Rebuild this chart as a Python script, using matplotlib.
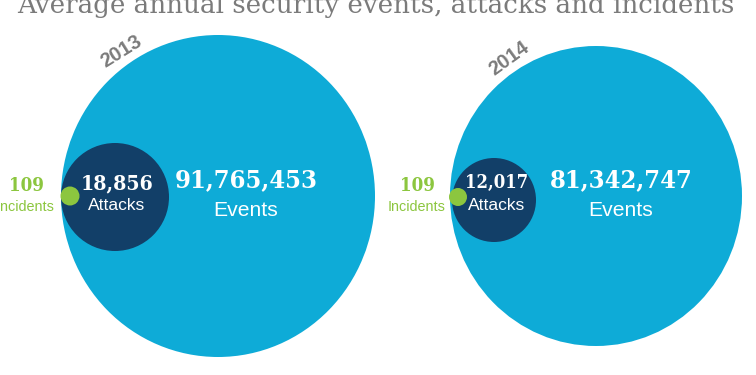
import matplotlib
matplotlib.use("Agg")
import matplotlib.pyplot as plt
from matplotlib.patches import Ellipse, Circle

# data
years = ["2013", "2014"]
events = [91765453, 81342747]
attacks = [18856, 12017]
incidents = [109, 109]
title = "Average annual security events, attacks and incidents"

# colours
c_events = "#0eabd7"
c_attacks = "#123f68"
c_incid = "#8cc63f"
c_grey = "#7b7b7b"

# layout (pixel coords, y down)
big = [((218, 196), 157, 161), ((596, 196), 146, 150)]
mid = [((115, 197), 54), ((494, 200), 42)]
small = [((70, 196), 9.5), ((458, 197), 9)]
year_pos = [((121, 51), 32), ((509, 58), 36)]
inc_x = [26, 417]
att_x = [117, 497]
att_size = [15.2, 13.2]
ev_x = [246, 621]

fig = plt.figure(figsize=(7.56, 3.75), dpi=100)
ax = fig.add_axes([0, 0, 1, 1])
ax.set_xlim(0, 756)
ax.set_ylim(375, 0)
ax.axis("off")

serif = "DejaVu Serif"
sans = "Liberation Sans"
num = dict(family=serif, fontweight="bold", fontstretch="condensed")

for i in range(len(years)):
    (cx, cy), rx, ry = big[i]
    ax.add_patch(Ellipse((cx, cy), 2 * rx, 2 * ry, color=c_events, lw=0))
    (mx, my), mr = mid[i]
    ax.add_patch(Circle((mx, my), mr, color=c_attacks, lw=0))
    (sx, sy), sr = small[i]
    ax.add_patch(Circle((sx, sy), sr, color=c_incid, lw=0))

    (yx, yy), rot = year_pos[i]
    ax.text(yx, yy, years[i], rotation=rot, ha="center", va="center",
            fontsize=14.5, fontweight="bold", color=c_grey, family=sans,
            rotation_mode="anchor")

    ax.text(inc_x[i], 186, f"{incidents[i]:,}", ha="center", va="center",
            fontsize=13.5, color=c_incid, **num)
    ax.text(inc_x[i], 207, "Incidents", ha="center", va="center",
            fontsize=10.4, color=c_incid, family=sans)

    ax.text(att_x[i], 183, f"{attacks[i]:,}", ha="center", va="center",
            fontsize=att_size[i], color="white", **num)
    ax.text(att_x[i], 206, "Attacks", ha="center", va="center",
            fontsize=12.6, color="white", family=sans)

    ax.text(ev_x[i], 180, f"{events[i]:,}", ha="center", va="center",
            fontsize=18.3, color="white", **num)
    ax.text(ev_x[i], 211, "Events", ha="center", va="center",
            fontsize=15.2, color="white", family=sans)

ax.text(17, 13, title, ha="left", va="baseline", fontsize=18.8,
        color=c_grey, family=serif)

fig.savefig("out.png", dpi=100)
